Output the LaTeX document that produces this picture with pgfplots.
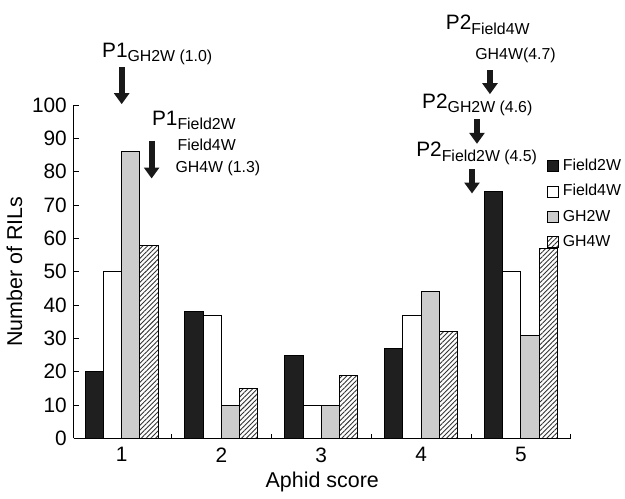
\documentclass[border=0pt]{standalone}
\usepackage{pgfplots}
\pgfplotsset{compat=1.18}
\usepackage{fontspec}
\setmainfont{Liberation Sans}
\usetikzlibrary{patterns,patterns.meta,arrows.meta}
\begin{document}
\begin{tikzpicture}
\begin{axis}[
  scale only axis, width=250.5pt, height=168pt,
  xmin=0.52, xmax=5.5, ymin=0, ymax=100,
  axis x line=bottom, axis y line=left, axis line style={-, line width=0.5pt},
  ybar, bar width=9.2pt,
  xtick={1,2,3,4,5}, major x tick style={draw=none},
  minor xtick={1.5,2.5,3.5,4.5,5.5},
  minor tick length=2.5pt,
  ytick={0,10,...,100}, major tick length=2.5pt,
  tick align=inside, tick style={line width=0.5pt, black},
  /pgf/number format/assume math mode=true,
  tick label style={font=\fontsize{10.5}{12}\selectfont},
  xticklabel style={yshift=-1pt},
  xlabel={Aphid score}, ylabel={Number of RILs},
  label style={font=\fontsize{10.8}{12}\selectfont},
  xlabel style={yshift=2pt},
  ylabel style={yshift=-2pt},
  clip=false,
  legend image code/.code={\draw[#1,draw=black,line width=0.4pt] (0pt,-2.7pt) rectangle (5.4pt,2.7pt);},
  legend style={at={(rel axis cs:0.952,0.852)}, anchor=north west, draw=none, fill=none,
    font=\fontsize{8}{9}\selectfont, row sep=1.6pt, inner sep=0pt,
    /tikz/every even column/.append style={column sep=1pt}},
  legend cell align=left,
]
\addplot[fill=black!88, draw=black, line width=0.5pt, bar shift=-13.8pt]
  coordinates {(1,20) (2,38) (3,25) (4,27) (5,74)};
\addlegendentry{Field2W}
\addplot[fill=white, draw=black, line width=0.5pt, bar shift=-4.6pt]
  coordinates {(1,50) (2,37) (3,10) (4,37) (5,50)};
\addlegendentry{Field4W}
\addplot[fill=black!20, draw=black, line width=0.5pt, bar shift=4.6pt]
  coordinates {(1,86) (2,10) (3,10) (4,44) (5,31)};
\addlegendentry{GH2W}
\addplot[fill=white, draw=black, line width=0.5pt, bar shift=13.8pt,
  postaction={pattern={Lines[angle=45,distance=1.7pt,line width=0.45pt]}, pattern color=black!80}]
  coordinates {(1,58) (2,15) (3,19) (4,32) (5,57)};
\addlegendentry{GH4W}

% annotations
\tikzset{bigarrow/.style={line width=3pt, black!90, -{Triangle[width=7.5pt,length=5.5pt]}}}
\def\sub#1{\raisebox{-2.2pt}{\fontsize{8}{9}\selectfont #1}}
\draw[bigarrow] (axis cs:1.0,111.3) -- (axis cs:1.0,100.3);
\draw[bigarrow] (axis cs:1.30,89.3) -- (axis cs:1.30,78.0);
\draw[bigarrow] (axis cs:4.69,110.4) -- (axis cs:4.69,103.3);
\draw[bigarrow] (axis cs:4.56,95.8) -- (axis cs:4.56,88.4);
\draw[bigarrow] (axis cs:4.51,80.7) -- (axis cs:4.51,73.5);

\node[anchor=base west, inner sep=0pt, font=\fontsize{10.5}{12}\selectfont] at (axis cs:0.80,114.3) {P1\sub{GH2W (1.0)}};
\node[anchor=base west, inner sep=0pt, font=\fontsize{10.5}{12}\selectfont] at (axis cs:1.30,94.0) {P1\sub{Field2W}};
\node[anchor=base west, inner sep=0pt, font=\fontsize{8}{9}\selectfont] at (axis cs:1.556,86.4) {Field4W};
\node[anchor=base west, inner sep=0pt, font=\fontsize{8}{9}\selectfont] at (axis cs:1.536,79.9) {GH4W (1.3)};

\node[anchor=base west, inner sep=0pt, font=\fontsize{10.5}{12}\selectfont] at (axis cs:4.245,122.6) {P2\sub{Field4W}};
\node[anchor=base west, inner sep=0pt, font=\fontsize{8}{9}\selectfont] at (axis cs:4.54,113.8) {GH4W(4.7)};
\node[anchor=base west, inner sep=0pt, font=\fontsize{10.5}{12}\selectfont] at (axis cs:4.007,99.1) {P2\sub{GH2W (4.6)}};
\node[anchor=base west, inner sep=0pt, font=\fontsize{10.5}{12}\selectfont] at (axis cs:3.948,84.5) {P2\sub{Field2W (4.5)}};
\end{axis}
\useasboundingbox (-36pt,-25.5pt) rectangle (276.5pt,221pt);
\end{tikzpicture}
\end{document}
